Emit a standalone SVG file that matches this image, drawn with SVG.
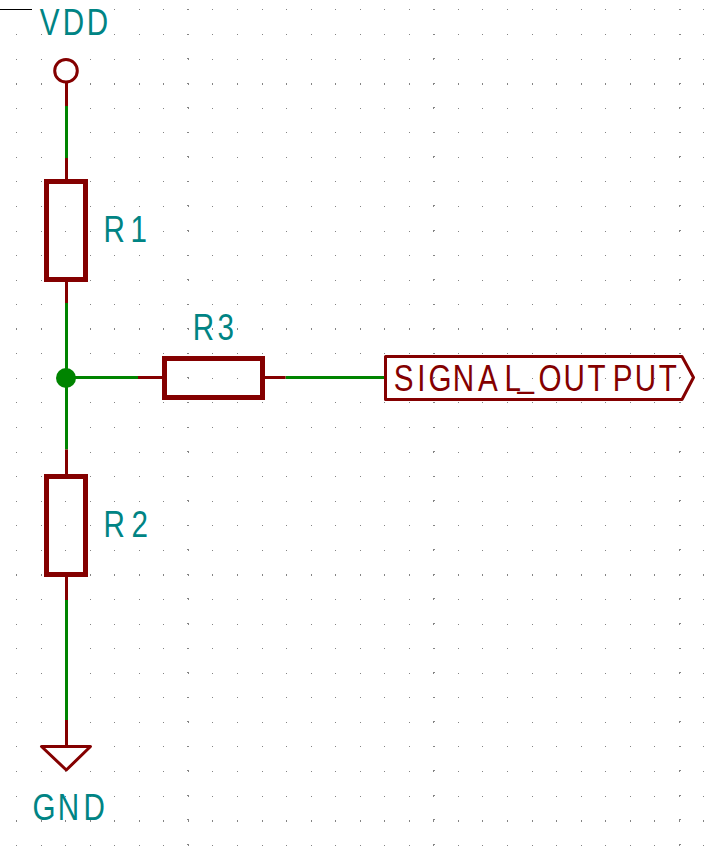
<svg xmlns="http://www.w3.org/2000/svg" width="707" height="848" viewBox="0 0 707 848">
<style>
.t{font-family:"Liberation Sans",Arial,sans-serif;fill:#008484;font-size:37px}
.w{stroke:#008400;stroke-width:3;fill:none}
.p{stroke:#840000;stroke-width:3;fill:none;stroke-linejoin:round}
.b{stroke:#840000;stroke-width:5;fill:none}
.g{stroke:#848484;stroke-width:1;stroke-dasharray:1 23.55;shape-rendering:crispEdges}
.h{stroke-width:2}
.c{stroke:#848484;stroke-width:2;stroke-dasharray:1 23.56;shape-rendering:crispEdges}
</style>
<defs><line id="row" class="g" x1="16" x2="707" y1="0" y2="0"/><line id="tall" class="g h" x1="16" x2="707" y1="0" y2="0"/></defs>
<rect width="707" height="848" fill="#fff"/>
<g id="grid">
<use href="#row" y="9.5"/><use href="#row" y="34.5"/><use href="#row" y="59.5"/><use href="#tall" y="84"/><use href="#row" y="108.5"/><use href="#row" y="132.5"/><use href="#row" y="157.5"/><use href="#row" y="181.5"/><use href="#row" y="206.5"/><use href="#row" y="231.5"/><use href="#row" y="255.5"/><use href="#row" y="280.5"/><use href="#row" y="304.5"/><use href="#tall" y="329"/><use href="#row" y="353.5"/><use href="#row" y="378.5"/><use href="#row" y="402.5"/><use href="#row" y="427.5"/><use href="#row" y="452.5"/><use href="#row" y="476.5"/><use href="#row" y="501.5"/><use href="#row" y="525.5"/><use href="#row" y="550.5"/><use href="#tall" y="575"/><use href="#row" y="599.5"/><use href="#row" y="624.5"/><use href="#row" y="648.5"/><use href="#row" y="673.5"/><use href="#row" y="697.5"/><use href="#row" y="722.5"/><use href="#row" y="746.5"/><use href="#row" y="771.5"/><use href="#row" y="796.5"/><use href="#tall" y="821"/><use href="#row" y="845.5"/>
<line class="c" x1="188" x2="188" y1="9" y2="848"/><line class="c" x1="434" x2="434" y1="9" y2="848"/><line class="c" x1="680" x2="680" y1="9" y2="848"/>
</g>
<path d="M0 9.5H32" stroke="#000" stroke-width="1"/>
<g id="connectors">
<path class="w" d="M66.5 106V158M66.5 303V449.500M66.5 600V720M66.5 377.5H138M285.500 377.5H386"/>
</g>
<g id="VDD">
<circle class="p" cx="66" cy="70.7" r="11.3"/>
<path class="p" d="M66.5 83V106"/>
<text class="t" transform="translate(0 35) scale(.8 1)" x="49.800 78.300 108.300" y="0">VDD</text>
</g>
<g id="R1">
<path class="p" d="M66.5 158V181M66.5 280V303"/>
<rect class="b" x="46.5" y="181.5" width="39" height="98"/>
<text class="t" transform="translate(0 241.700) scale(.8 1)" x="129.500 163.100" y="0">R1</text>
</g>
<g id="R2">
<path class="p" d="M66.5 449.500V476M66.5 575V600"/>
<rect class="b" x="46.5" y="476.5" width="39" height="98"/>
<text class="t" transform="translate(0 536.600) scale(.8 1)" x="129.500 164.400" y="0">R2</text>
</g>
<g id="R3">
<path class="p" d="M138 377.5H163M264 377.5H285.500"/>
<rect class="b" x="164.5" y="358.5" width="98" height="39"/>
<text class="t" transform="translate(0 340) scale(.8 1)" x="240.800 271.900" y="0">R3</text>
</g>
<g id="junction"><circle cx="66" cy="378" r="10" fill="#008400"/></g>
<g id="GND">
<path class="p" d="M66.5 720V746M41.500 746.500H90.500L66.300 770Z"/>
<text class="t" transform="translate(0 820) scale(.8 1)" x="40.600 72.300 104.500" y="0">GND</text>
</g>
<g id="SIGNAL_OUTPUT">
<path class="p" d="M385.500 356.500H682L693.500 377.500L682 399.500H385.500Z"/>
<text class="t" transform="translate(0 390.700) scale(.8 1)" x="492.100 521.500 535.600 566 597.500 630.600 647 673.100 704.500 734.300 765.800 793.300 823.400" y="0" dy="0 0 0 0 0 0 -3.500 3.500" style="fill:#840000">SIGNAL_OUTPUT</text>
</g>
</svg>
